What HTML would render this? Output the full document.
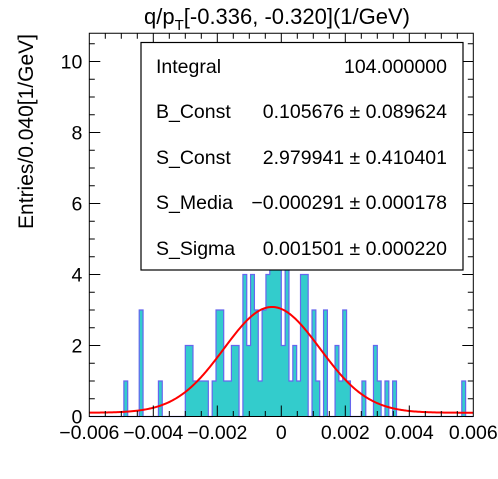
<!DOCTYPE html>
<html><head><meta charset="utf-8"><style>
body{margin:0;background:#fff}
svg{font-family:"Liberation Sans",Arial,sans-serif}
</style></head><body>
<svg id="c" width="498" height="474" xmlns="http://www.w3.org/2000/svg">
<rect width="498" height="474" fill="#fff"/>
<g id="bars"></g>
<path id="fit" fill="none" stroke="#ff0000" stroke-width="2"/>
<g id="axes"></g>
<g>
<rect x="141" y="42.5" width="322" height="227.5" fill="#fff" stroke="#000" stroke-width="1.2"/>
<g font-size="19.5" fill="#000">
<text x="156" y="73">Integral</text><text x="447" y="73" text-anchor="end">104.000000</text>
<text x="156" y="118">B_Const</text><text x="447" y="118" text-anchor="end">0.105676 ± 0.089624</text>
<text x="156" y="164">S_Const</text><text x="447" y="164" text-anchor="end">2.979941 ± 0.410401</text>
<text x="156" y="209">S_Media</text><text x="447" y="209" text-anchor="end">−0.000291 ± 0.000178</text>
<text x="156" y="255">S_Sigma</text><text x="447" y="255" text-anchor="end">0.001501 ± 0.000220</text>
</g></g>
<text x="277" y="24" font-size="22" text-anchor="middle">q/p<tspan font-size="15" dy="6">T</tspan><tspan dy="-6">[-0.336, -0.320](1/GeV)</tspan></text>
<text transform="translate(33,34) rotate(-90)" font-size="21" text-anchor="end">Entries/0.040[1/GeV]</text>
</svg>
<script>
const binIndex=[9,13,18,25,26,27,28,29,30,32,33,34,35,36,37,38,40,41,42,43,44,45,46,47,48,49,50,51,52,53,54,55,56,58,59,61,64,65,66,67,71,74,75,77,79,97];
const binCount=[1,3,1,2,2,1,1,1,1,1,3,3,1,1,2,2,4,2,4,3,1,3,4,6,5,6,2,5,1,2,1,4,4,3,1,3,2,1,3,1,1,2,1,1,1,1];
const xTicks=[-0.006,-0.004,-0.002,0,0.002,0.004,0.006];
const xTickLabels=["−0.006","−0.004","−0.002","0","0.002","0.004","0.006"];
const yTicks=[0,2,4,6,8,10];
const fitParams=[0.105676,2.979941,-0.000291,0.001501];
const X0=89.3,X1=473.3,Y0=416.5,Y1=33.3,xmin=-0.006,xmax=0.006,ymax=(416.5-33.3)/35.5,nb=100;
const sx=v=>X0+(v-xmin)/(xmax-xmin)*(X1-X0);
const sy=v=>Y0-v/ymax*(Y0-Y1);
const NS="http://www.w3.org/2000/svg";
const bw=(xmax-xmin)/nb;
const bars=document.getElementById('bars');
let d="M"+X0+","+Y0;
const counts=new Array(nb).fill(0);
binIndex.forEach((b,k)=>counts[b]=binCount[k]);
for(let i=0;i<nb;i++){
  const a=sx(xmin+i*bw),b=sx(xmin+(i+1)*bw),y=sy(counts[i]);
  d+=" L"+a+","+y+" L"+b+","+y;
}
d+=" L"+X1+","+Y0;
const fill=document.createElementNS(NS,'path');
fill.setAttribute('d',d+" Z");fill.setAttribute('fill','#33cccc');fill.setAttribute('stroke','none');


bars.appendChild(fill);
const outline=document.createElementNS(NS,'path');
outline.setAttribute('d',d);outline.setAttribute('fill','none');outline.setAttribute('stroke','#6666ee');outline.setAttribute('stroke-width','1.2');


bars.appendChild(outline);
let fd="";
for(let i=0;i<=300;i++){
  const x=xmin+i*(xmax-xmin)/300;
  const y=fitParams[0]+fitParams[1]*Math.exp(-0.5*Math.pow((x-fitParams[2])/fitParams[3],2));
  fd+=(i?" L":"M")+sx(x).toFixed(2)+","+sy(y).toFixed(2);
}
document.getElementById('fit').setAttribute('d',fd);
const ax=document.getElementById('axes');
let ad=`M${X0},${Y1} H${X1} V${Y0} H${X0} Z`;
for(let v=-12;v<=12;v++){
  const x=sx(v*0.0005);const L=(v%4===0)?11:5.5;
  ad+=` M${x},${Y0} V${Y0-L} M${x},${Y1} V${Y1+L}`;
}
for(let v=0;v<=ymax*2;v++){
  const y=sy(v*0.5);const L=(v%4===0)?11:5.5;
  ad+=` M${X0},${y} H${X0+L} M${X1},${y} H${X1-L}`;
}
const ap=document.createElementNS(NS,'path');
ap.setAttribute('d',ad);ap.setAttribute('stroke','#000');ap.setAttribute('fill','none');ap.setAttribute('stroke-width','1');


ax.appendChild(ap);
xTicks.forEach((v,k)=>{
  const t=document.createElementNS(NS,'text');
  t.setAttribute('x',sx(v));t.setAttribute('y',439);t.setAttribute('font-size','19.5');t.setAttribute('text-anchor','middle');
  t.textContent=xTickLabels[k];
  
  
  ax.appendChild(t);
});
yTicks.forEach(v=>{
  const t=document.createElementNS(NS,'text');
  t.setAttribute('x',X0-7);t.setAttribute('y',sy(v)+7);t.setAttribute('font-size','19.5');t.setAttribute('text-anchor','end');
  t.textContent=v;
  
  
  ax.appendChild(t);
});
</script>
</body></html>
